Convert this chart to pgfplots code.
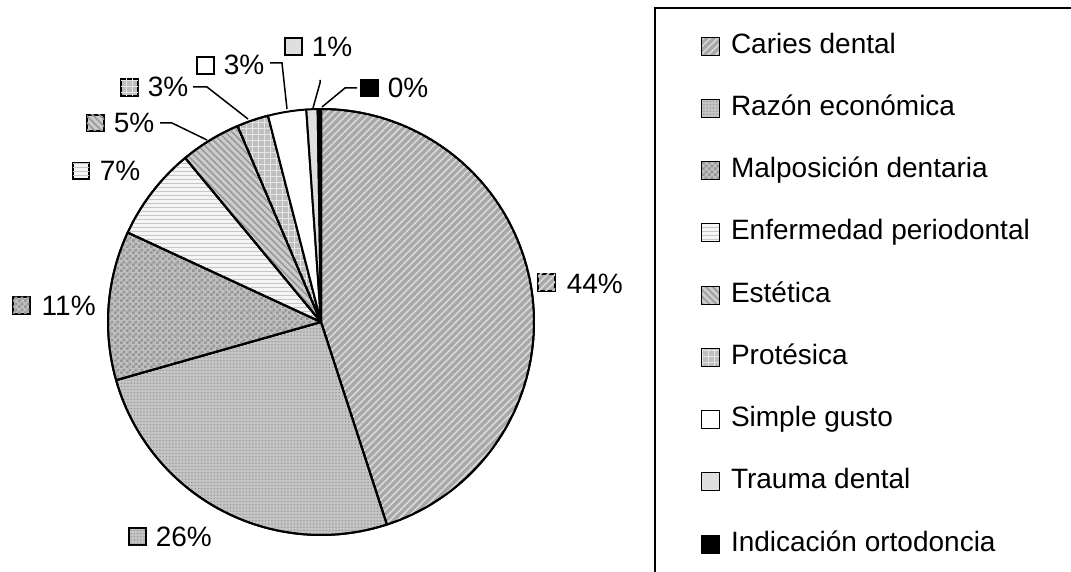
\documentclass[border=0pt]{standalone}
\usepackage{fontspec}
\setmainfont{Liberation Sans}
\usepackage{pgfplots}
\pgfplotsset{compat=1.18}
\usetikzlibrary{patterns,patterns.meta}
\pgfdeclarepatternformonly{finecheck}{\pgfpointorigin}{\pgfqpoint{3pt}{3pt}}{\pgfqpoint{3pt}{3pt}}{%
  \pgfpathrectangle{\pgfpointorigin}{\pgfqpoint{1.5pt}{1.5pt}}%
  \pgfpathrectangle{\pgfqpoint{1.5pt}{1.5pt}}{\pgfqpoint{1.5pt}{1.5pt}}%
  \pgfusepath{fill}}
\newcommand\lab{\fontsize{14}{16}\selectfont}
\tikzset{
 sA/.style={fill=gray!68, postaction={pattern={Lines[angle=45,distance=2.6pt,line width=0.8pt]}, pattern color=gray!30}},
 sB/.style={fill=gray!45, postaction={pattern={Dots[distance=1.6pt,radius=0.45pt]}, pattern color=gray!80}},
 sC/.style={fill=gray!50, postaction={pattern=finecheck, pattern color=gray!82}},
 sD/.style={fill=gray!8, postaction={pattern={Lines[angle=0,distance=2pt,line width=0.5pt]}, pattern color=gray!45}},
 sE/.style={fill=gray!40, postaction={pattern={Lines[angle=-45,distance=2.4pt,line width=0.8pt]}, pattern color=gray!80}},
 sF/.style={fill=gray!50, postaction={pattern={Hatch[angle=0,distance=3pt,line width=0.35pt]}, pattern color=gray!20}},
 sG/.style={fill=white},
 sH/.style={fill=gray!25},
 sI/.style={fill=black},
}
% shares of the pie (percent)
\pgfmathsetmacro\cA{0}
\pgfmathsetmacro\cB{\cA+3.6*45.0}  % Caries dental
\pgfmathsetmacro\cC{\cB+3.6*25.6}  % Razon economica
\pgfmathsetmacro\cD{\cC+3.6*11.3}  % Malposicion dentaria
\pgfmathsetmacro\cE{\cD+3.6*7.1}   % Enfermedad periodontal
\pgfmathsetmacro\cF{\cE+3.6*4.6}   % Estetica
\pgfmathsetmacro\cG{\cF+3.6*2.4}   % Protesica
\pgfmathsetmacro\cH{\cG+3.6*2.9}   % Simple gusto
\pgfmathsetmacro\cI{\cH+3.6*0.85}  % Trauma dental
\pgfmathsetmacro\cJ{\cI+3.6*0.25}  % Indicacion ortodoncia
\begin{document}
\begin{tikzpicture}
\useasboundingbox (0,0) rectangle (535.5pt,286pt);
\clip (0,0) rectangle (535.5pt,286pt);
\begin{axis}[at={(0,0)}, anchor=south west,
  width=535.5pt, height=286pt, scale only axis,
  xmin=0, xmax=1071, ymin=0, ymax=572, y dir=reverse,
  hide axis, clip=false,
  legend image code/.code={\draw[#1, line width=0.5pt] (0pt,-4.5pt) rectangle (9pt,4.5pt);},
  legend cell align=left,
  legend style={draw=none, fill=none, at={(axis cs:701,33)}, anchor=north west,
    inner sep=0pt, outer sep=0pt, row sep=18.125pt, column sep=5.5pt, font=\lab,
    nodes={inner sep=0pt, text height=10pt, text depth=3pt}},
  legend entries={Caries dental, Razón económica, Malposición dentaria, Enfermedad periodontal, Estética, Protésica, Simple gusto, Trauma dental, Indicación ortodoncia},
  every axis plot/.append style={draw=black, line width=1pt, line join=round},
  variable=\t,
]
\addplot[sA, domain=\cA:\cB, samples=90] ({321+213*sin(\t)},{322-213*cos(\t)}) -- (axis cs:321,322) -- cycle;
\addplot[sB, domain=\cB:\cC, samples=50] ({321+213*sin(\t)},{322-213*cos(\t)}) -- (axis cs:321,322) -- cycle;
\addplot[sC, domain=\cC:\cD, samples=25] ({321+213*sin(\t)},{322-213*cos(\t)}) -- (axis cs:321,322) -- cycle;
\addplot[sD, domain=\cD:\cE, samples=15] ({321+213*sin(\t)},{322-213*cos(\t)}) -- (axis cs:321,322) -- cycle;
\addplot[sE, domain=\cE:\cF, samples=10] ({321+213*sin(\t)},{322-213*cos(\t)}) -- (axis cs:321,322) -- cycle;
\addplot[sF, domain=\cF:\cG, samples=6] ({321+213*sin(\t)},{322-213*cos(\t)}) -- (axis cs:321,322) -- cycle;
\addplot[sG, domain=\cG:\cH, samples=6] ({321+213*sin(\t)},{322-213*cos(\t)}) -- (axis cs:321,322) -- cycle;
\addplot[sH, domain=\cH:\cI, samples=3] ({321+213*sin(\t)},{322-213*cos(\t)}) -- (axis cs:321,322) -- cycle;
\addplot[sI, domain=\cI:\cJ, samples=2] ({321+213*sin(\t)},{322-213*cos(\t)}) -- (axis cs:321,322) -- cycle;

% legend frame
\draw[line width=1pt] (axis cs:655,8) rectangle (axis cs:1110,610);

% data labels
\begin{scope}[line width=0.75pt]
\draw[sA] (axis cs:538,274) rectangle (axis cs:555,291);
\node[anchor=base west, inner sep=0pt, font=\lab] at (axis cs:566,293) {44\%};
\draw[sB] (axis cs:129,528) rectangle (axis cs:146,545);
\node[anchor=base west, inner sep=0pt, font=\lab] at (axis cs:155,546) {26\%};
\draw[sC] (axis cs:13,297) rectangle (axis cs:30,314);
\node[anchor=base west, inner sep=0pt, font=\lab] at (axis cs:41,315) {11\%};
\draw[sD] (axis cs:73,163) rectangle (axis cs:89,179);
\node[anchor=base west, inner sep=0pt, font=\lab] at (axis cs:99,181) {7\%};
\draw[sE] (axis cs:87,115) rectangle (axis cs:104,131);
\node[anchor=base west, inner sep=0pt, font=\lab] at (axis cs:113,133) {5\%};
\draw (axis cs:160,123) -- (axis cs:172,123) -- (axis cs:207,140);
\draw[sF] (axis cs:121,79) rectangle (axis cs:138,96);
\node[anchor=base west, inner sep=0pt, font=\lab] at (axis cs:147,97) {3\%};
\draw (axis cs:193,87) -- (axis cs:207,87) -- (axis cs:248,119);
\draw[sG] (axis cs:197,57) rectangle (axis cs:214,74);
\node[anchor=base west, inner sep=0pt, font=\lab] at (axis cs:223,75) {3\%};
\draw (axis cs:270,63) -- (axis cs:282,63) -- (axis cs:287,109);
\draw[sH] (axis cs:285,38) rectangle (axis cs:302,55);
\node[anchor=base west, inner sep=0pt, font=\lab] at (axis cs:311,57) {1\%};
\draw (axis cs:320,80) -- (axis cs:320,83) -- (axis cs:313,108);
\draw[sI] (axis cs:361,80) rectangle (axis cs:378,96);
\node[anchor=base west, inner sep=0pt, font=\lab] at (axis cs:387,98) {0\%};
\draw (axis cs:357,88) -- (axis cs:345,88) -- (axis cs:322,107);
\end{scope}
\end{axis}
\end{tikzpicture}
\end{document}
